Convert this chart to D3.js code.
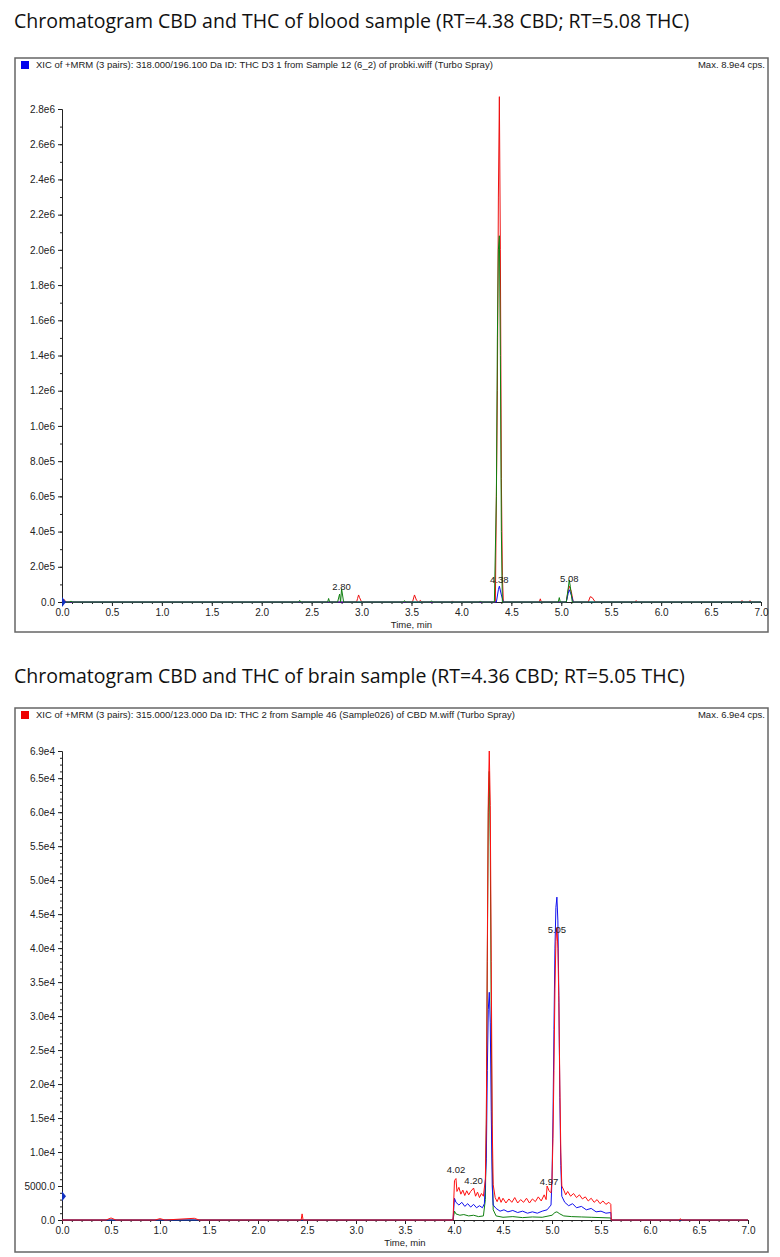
<!DOCTYPE html>
<html>
<head>
<meta charset="utf-8">
<script src="https://cdn.jsdelivr.net/npm/d3@7"></script>
<style>
body { margin: 0; background: #fff; }
.title { font-family: "Open Sans", "Noto Sans", sans-serif; font-size: 19.5px; fill: #111; }
.small { font-family: "Liberation Sans Narrow", "Liberation Sans", Arial, sans-serif; font-size: 9.5px; fill: #222; }
.tick text { font-family: "Liberation Sans Narrow", "Liberation Sans", Arial, sans-serif; font-size: 10px; fill: #222; }
</style>
</head>
<body>
<svg id="chart" width="780" height="1257"></svg>
<script>
// ---- data: blood sample (time min, counts) ----
var bloodGreen = [[0,0],[0.08,0],[0.09,6000],[0.1,0],[2.37,0],[2.38,9000],[2.39,0],[2.66,0],[2.67,20000],[2.68,0],[2.76,0],[2.78,45000],[2.79,0],[2.80,75000],[2.82,0],
  [3.42,0],[3.43,8000],[3.44,0],[3.69,0],[3.70,7000],[3.71,0],[4.18,0],[4.19,6000],[4.2,0],[4.33,0],[4.35,600000],[4.36,1500000],[4.37,2000000],[4.38,2080000],[4.39,1400000],[4.40,400000],[4.41,0],
  [4.97,0],[4.98,25000],[4.99,0],[5.05,0],[5.07,80000],[5.08,125000],[5.09,90000],[5.11,0],[7,0]];
var bloodRed = [[0,0],[0.02,15000],[0.04,0],[2.95,0],[2.96,20000],[2.97,40000],[2.98,25000],[3.0,0],[3.51,0],[3.53,40000],[3.55,10000],[3.57,0],[3.59,9000],[3.6,0],[3.9,0],[3.91,6000],[3.92,0],
  [4.34,0],[4.36,1200000],[4.37,2300000],[4.38,2870000],[4.39,2000000],[4.40,700000],[4.41,150000],[4.42,0],
  [4.78,0],[4.79,18000],[4.8,0],[5.05,0],[5.07,70000],[5.08,90000],[5.10,60000],[5.12,0],[5.27,0],[5.29,30000],[5.31,25000],[5.34,0],[5.74,0],[5.75,8000],[5.76,0],[6.8,0],[6.81,8000],[6.82,0],[6.88,0],[6.89,8000],[6.9,0],[7,0]];
var bloodBlue = [[0,0],[0.01,5000],[0.02,0],[4.35,0],[4.37,70000],[4.38,90000],[4.40,40000],[4.42,0],[5.05,0],[5.07,50000],[5.08,70000],[5.10,40000],[5.12,0],[7,0]];
var bloodLabels = [[2.80, 55000, "2.80"], [4.38, 95000, "4.38"], [5.08, 105000, "5.08"]];

// ---- data: brain sample ----
var brainRed = [[0,0],[0.45,0],[0.5,300],[0.55,0],[0.95,0],[1.0,200],[1.05,0],[1.35,250],[1.4,0],[2.44,0],[2.45,900],[2.46,0],[3.99,0],
  [4.005,5800],[4.02,6100],[4.03,4200],[4.05,4800],[4.07,3800],[4.09,4400],[4.11,3600],[4.13,4300],[4.15,3700],[4.17,4200],[4.20,4700],[4.22,3500],[4.24,4100],[4.26,3300],[4.28,3900],[4.30,3500],[4.32,6000],
  [4.33,15000],[4.34,40000],[4.35,62000],[4.36,69000],[4.37,61000],[4.38,38000],[4.39,14000],[4.40,5200],[4.42,3300],[4.44,2700],[4.46,3400],[4.48,2600],[4.50,3200],[4.53,2500],[4.56,3100],[4.59,2600],
  [4.62,3300],[4.65,2500],[4.68,3000],[4.71,2600],[4.74,3200],[4.77,2500],[4.80,3100],[4.83,2700],[4.86,3400],[4.89,2800],[4.92,3700],[4.94,3000],[4.95,5000],[4.97,4300],[4.99,4000],
  [5.00,6000],[5.01,12000],[5.02,22000],[5.03,34000],[5.04,41000],[5.05,43000],[5.06,40000],[5.07,32000],[5.08,20000],[5.09,10000],[5.10,5000],[5.12,4400],[5.14,3700],[5.16,4200],[5.19,3500],
  [5.22,3900],[5.25,3300],[5.28,3700],[5.31,3100],[5.34,3400],[5.37,2800],[5.40,3200],[5.43,2600],[5.46,3000],[5.49,2400],[5.52,2800],[5.55,2300],[5.58,2600],[5.60,2300],[5.605,0],[6.3,0],[6.31,200],[6.32,0],[7,0]];
var brainBlue = [[0,0],[3.99,0],[4.005,3200],[4.02,2600],[4.05,2200],[4.08,2600],[4.11,2000],[4.14,2400],[4.17,1900],[4.20,2300],[4.23,1800],[4.26,2100],[4.29,1800],[4.31,2400],
  [4.33,9000],[4.34,22000],[4.35,31000],[4.36,33500],[4.37,29000],[4.38,16000],[4.39,5000],[4.40,2200],[4.43,1700],[4.47,1300],[4.51,1500],[4.55,1200],[4.60,1400],[4.65,1100],[4.70,1300],[4.75,1000],
  [4.80,1200],[4.85,1000],[4.90,1300],[4.95,1500],[4.99,2200],[5.00,6000],[5.01,15000],[5.02,28000],[5.03,40000],[5.04,46000],[5.05,47500],[5.06,44000],[5.07,33000],[5.08,18000],[5.09,8000],[5.10,3500],
  [5.13,2600],[5.17,2100],[5.21,2400],[5.25,1800],[5.30,2000],[5.35,1500],[5.40,1700],[5.45,1200],[5.50,1300],[5.55,1000],[5.60,1100],[5.605,0],[7,0]];
var brainGreen = [[0,0],[3.99,0],[4.005,1300],[4.02,900],[4.06,700],[4.10,800],[4.15,600],[4.20,700],[4.25,500],[4.30,600],[4.32,3000],[4.33,14000],[4.34,38000],[4.35,60000],[4.36,66000],
  [4.37,55000],[4.38,30000],[4.39,9000],[4.40,1500],[4.43,600],[4.50,400],[4.60,500],[4.70,350],[4.80,450],[4.90,400],[5.00,700],[5.03,1100],[5.05,1200],[5.08,900],[5.12,600],[5.20,500],
  [5.30,450],[5.40,400],[5.50,350],[5.60,300],[5.605,0],[7,0]];
var brainLabels = [[4.02, 6600, "4.02"], [4.20, 5000, "4.20"], [4.97, 4800, "4.97"], [5.05, 42000, "5.05"]];

var xTicks = [0, 0.5, 1, 1.5, 2, 2.5, 3, 3.5, 4, 4.5, 5, 5.5, 6, 6.5, 7];
var bloodYTicks = d3.range(0, 2.81e6, 2e5);
var brainYTicks = [0, 5000, 10000, 15000, 20000, 25000, 30000, 35000, 40000, 45000, 50000, 55000, 60000, 65000, 69000];

var svg = d3.select("#chart");

function panel(opt) {
	svg.append("text").attr("class", "title").attr("x", 14).attr("y", opt.titleY).text(opt.title);
	var g = svg.append("g");
	g.append("rect").attr("x", opt.box[0]).attr("y", opt.box[1]).attr("width", opt.box[2]).attr("height", opt.box[3])
		.attr("fill", "none").attr("stroke", "#666").attr("stroke-width", 1.5);
	g.append("rect").attr("x", opt.box[0] + 6).attr("y", opt.box[1] + 3).attr("width", 8).attr("height", 8).attr("fill", opt.marker);
	g.append("text").attr("class", "small").attr("x", opt.box[0] + 21).attr("y", opt.box[1] + 10).text(opt.header);
	g.append("text").attr("class", "small").attr("x", opt.box[0] + opt.box[2] - 3).attr("y", opt.box[1] + 10)
		.attr("text-anchor", "end").text(opt.max);

	var x = d3.scaleLinear().domain([0, 7]).range(opt.xr);
	var y = d3.scaleLinear().domain([0, opt.ymax]).range(opt.yr);

	var minorX = d3.axisBottom(x).tickValues(d3.range(0, 7.01, 0.1)).tickSize(2).tickFormat("");
	g.append("g").attr("transform", "translate(0," + opt.yr[0] + ")").call(minorX);
	g.append("g").attr("transform", "translate(0," + opt.yr[0] + ")")
		.call(d3.axisBottom(x).tickValues(xTicks).tickSize(4).tickFormat(d3.format(".1f")))
		.call(a => a.select(".domain").attr("stroke", "#222"));
	g.append("g").attr("transform", "translate(" + opt.xr[0] + ",0)")
		.call(d3.axisLeft(y).tickValues(opt.minorY).tickSize(2).tickFormat("")).call(a => a.select(".domain").remove());
	g.append("g").attr("transform", "translate(" + opt.xr[0] + ",0)")
		.call(d3.axisLeft(y).tickValues(opt.yTicks).tickSize(4).tickFormat(opt.fmt))
		.call(a => a.select(".domain").attr("stroke", "#222"));
	g.selectAll(".tick line").attr("stroke", "#222");
	g.append("text").attr("class", "small").attr("x", (opt.xr[0] + opt.xr[1]) / 2).attr("y", opt.yr[0] + 26)
		.attr("text-anchor", "middle").text("Time, min");

	var line = d3.line().x(d => x(d[0])).y(d => y(d[1]));
	opt.series.forEach(function(s) {
		g.append("path").datum(s.data).attr("d", line).attr("fill", "none").attr("stroke", s.color).attr("stroke-width", 1);
	});
	g.selectAll(".pk").data(opt.labels).enter().append("text").attr("class", "small")
		.attr("x", d => x(d[0])).attr("y", d => y(d[1]) - 2).attr("text-anchor", "middle").text(d => d[2]);
	// blue start marker on the y axis
	var my = y(opt.markerY);
	g.append("path").attr("d", "M" + opt.xr[0] + "," + (my - 5) + "L" + (opt.xr[0] + 4) + "," + my + "L" + opt.xr[0] + "," + (my + 5) + "Z").attr("fill", "#1030c0");
}

panel({
	title: "Chromatogram CBD and THC of blood sample (RT=4.38 CBD; RT=5.08 THC)", titleY: 28,
	box: [15, 58, 753, 574], marker: "#0000ee",
	header: "XIC of +MRM (3 pairs): 318.000/196.100 Da ID: THC D3 1 from Sample 12 (6_2) of probki.wiff (Turbo Spray)",
	max: "Max. 8.9e4 cps.",
	xr: [62, 761], yr: [602, 109], ymax: 2.8e6,
	yTicks: bloodYTicks, minorY: d3.range(0, 2.81e6, 1e5),
	fmt: d => d === 0 ? "0.0" : (d / Math.pow(10, Math.floor(Math.log10(d)))).toFixed(1) + "e" + Math.floor(Math.log10(d)),
	series: [{data: bloodRed, color: "#ee1010"}, {data: bloodBlue, color: "#1010ee"}, {data: bloodGreen, color: "#108010"}],
	labels: bloodLabels, markerY: 0
});

panel({
	title: "Chromatogram CBD and THC of brain sample (RT=4.36 CBD; RT=5.05 THC)", titleY: 683,
	box: [15, 708, 753, 544], marker: "#ee0000",
	header: "XIC of +MRM (3 pairs): 315.000/123.000 Da ID: THC 2 from Sample 46 (Sample026) of CBD M.wiff (Turbo Spray)",
	max: "Max. 6.9e4 cps.",
	xr: [62, 748], yr: [1220, 751], ymax: 69000,
	yTicks: brainYTicks, minorY: d3.range(0, 69001, 1000),
	fmt: d => d === 0 ? "0.0" : d === 5000 ? "5000.0" : (d / 1e4).toFixed(1) + "e4",
	series: [{data: brainGreen, color: "#108010"}, {data: brainBlue, color: "#1010ee"}, {data: brainRed, color: "#ff1010"}],
	labels: brainLabels, markerY: 3500
});
</script>
</body>
</html>
